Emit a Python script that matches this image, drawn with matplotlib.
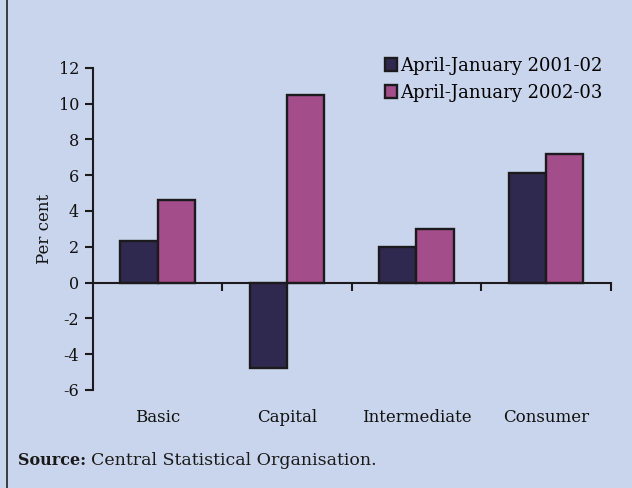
import matplotlib
matplotlib.use("Agg")
import matplotlib.pyplot as plt
import numpy as np

# data
categories = ["Basic", "Capital", "Intermediate", "Consumer"]
series_names = ["April-January 2001-02", "April-January 2002-03"]
growth_2001_02 = [2.3, -4.8, 2.0, 6.1]
growth_2002_03 = [4.6, 10.5, 3.0, 7.2]
y_ticks = [-6, -4, -2, 0, 2, 4, 6, 8, 10, 12]

bg = '#c9d5ec'
dark = '#2f2950'
pink = '#a34d8b'
edge = '#1c1a1c'
serif = ['DejaVu Serif']

fig = plt.figure(figsize=(6.32, 4.88), dpi=100, facecolor=bg)
ax = fig.add_axes([0.147, 0.201, 0.819, 0.660])
ax.set_facecolor(bg)

x = np.arange(len(categories))
w = 0.287
ax.bar(x - w / 2, growth_2001_02, w, color=dark, edgecolor=edge, linewidth=1.7,
       label=series_names[0], zorder=2)
ax.bar(x + w / 2, growth_2002_03, w, color=pink, edgecolor=edge, linewidth=1.7,
       label=series_names[1], zorder=2)

ax.set_xlim(-0.5, len(categories) - 0.5)
ax.set_ylim(-6, 12)
ax.set_yticks(y_ticks)
ax.set_yticklabels([str(t) for t in y_ticks], family=serif, fontsize=11.5, color='#111111')
ax.tick_params(axis='y', length=6, width=1.5, color=edge, pad=4)

# x axis sits on zero, ticks between categories
ax.spines['top'].set_visible(False)
ax.spines['right'].set_visible(False)
ax.spines['bottom'].set_position(('data', 0))
ax.spines['bottom'].set_linewidth(1.5)
ax.spines['bottom'].set_color(edge)
ax.spines['left'].set_linewidth(1.5)
ax.spines['left'].set_color(edge)
ax.set_xticks(np.arange(len(categories)) + 0.5)
ax.set_xticklabels([])
ax.tick_params(axis='x', length=6, width=1.5, color=edge)

for i, cat in enumerate(categories):
    ax.text(i, -0.085, cat, transform=ax.get_xaxis_transform(), ha='center', va='center',
            family=serif, fontsize=12, color='#111111')

ax.set_ylabel("Per cent", family=serif, fontsize=12, color='#111111', labelpad=4)

fig.legend(loc='upper left', bbox_to_anchor=(0.597, 0.899), frameon=False,
           prop={'family': serif, 'size': 13}, handlelength=0.7, handleheight=0.7,
           handletextpad=0.15, labelspacing=0.5, borderaxespad=0)

# left border of the panel
fig.add_artist(plt.Line2D([0.011, 0.011], [0, 1], color='#222222', linewidth=1.2,
                          transform=fig.transFigure))

fig.text(0.028, 0.048, "Source:", family=serif, fontsize=11.5, fontweight='bold', color='#1a1a1a')
fig.text(0.144, 0.048, "Central Statistical Organisation.", family=serif, fontsize=12.5,
         color='#1a1a1a')

fig.savefig("out.png", dpi=100, facecolor=bg)
